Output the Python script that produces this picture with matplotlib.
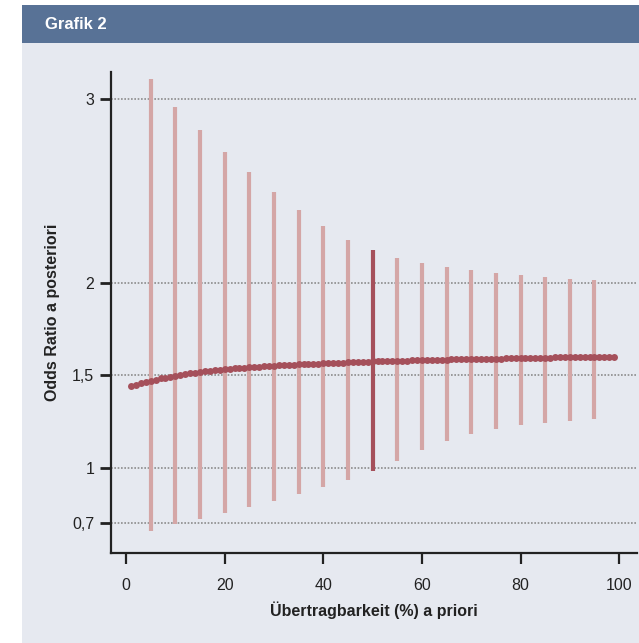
"""Grafik 2: Odds Ratio a posteriori vs. Uebertragbarkeit a priori."""
import matplotlib
matplotlib.use("Agg")
import matplotlib.pyplot as plt
from matplotlib.patches import Rectangle

# prior transferability (%) for the interval bars
bar_x = [5, 10, 15, 20, 25, 30, 35, 40, 45, 50,
         55, 60, 65, 70, 75, 80, 85, 90, 95]
bar_hi = [3.104, 2.956, 2.828, 2.712, 2.600, 2.495, 2.397, 2.309, 2.233, 2.177,
          2.137, 2.108, 2.085, 2.069, 2.054, 2.043, 2.033, 2.022, 2.016]
bar_lo = [0.657, 0.692, 0.723, 0.755, 0.788, 0.820, 0.856, 0.894, 0.934, 0.983,
          1.037, 1.093, 1.145, 1.183, 1.209, 1.229, 1.243, 1.254, 1.265]
highlight = 50

# posterior odds ratio, one point per percent
curve_x = list(range(1, 100))
curve_y = [1.442, 1.450, 1.458, 1.465, 1.471, 1.477, 1.483, 1.488, 1.493, 1.498,
           1.502, 1.506, 1.510, 1.514, 1.518, 1.521, 1.524, 1.527, 1.530, 1.533,
           1.535, 1.537, 1.539, 1.541, 1.543, 1.545, 1.547, 1.549, 1.551, 1.553,
           1.554, 1.556, 1.557, 1.558, 1.560, 1.561, 1.562, 1.563, 1.564, 1.565,
           1.566, 1.567, 1.568, 1.569, 1.570, 1.571, 1.572, 1.573, 1.574, 1.575,
           1.576, 1.576, 1.577, 1.578, 1.579, 1.579, 1.580, 1.581, 1.581, 1.582,
           1.583, 1.583, 1.584, 1.585, 1.585, 1.586, 1.587, 1.587, 1.588, 1.588,
           1.589, 1.589, 1.590, 1.590, 1.591, 1.591, 1.592, 1.592, 1.593, 1.593,
           1.594, 1.594, 1.595, 1.595, 1.596, 1.596, 1.597, 1.597, 1.597, 1.598,
           1.598, 1.599, 1.599, 1.599, 1.600, 1.600, 1.600, 1.601, 1.601]

y_ticks = [0.7, 1, 1.5, 2, 3]
y_labels = ["0,7", "1", "1,5", "2", "3"]
x_ticks = [0, 20, 40, 60, 80, 100]

plt.rcParams["font.family"] = ["Liberation Sans", "DejaVu Sans"]

fig = plt.figure(figsize=(6.39, 6.43), dpi=100)
fig.patch.set_facecolor("white")

# light panel and header bar
fig.patches.append(Rectangle((0.034, 0.0), 0.966, 0.935, transform=fig.transFigure,
                             facecolor="#e6e9f0", edgecolor="none", zorder=-2))
fig.patches.append(Rectangle((0.034, 0.933), 0.966, 0.06, transform=fig.transFigure,
                             facecolor="#587296", edgecolor="none", zorder=-2))
fig.text(0.07, 0.962, "Grafik 2", color="white", fontsize=12,
         fontweight="bold", va="center", ha="left")

ax = fig.add_axes([0.1737, 0.140, 0.823, 0.748])
ax.set_facecolor("none")

for yt in y_ticks:
    ax.axhline(yt, color="#8c8c8c", linestyle=(0, (1, 1)), linewidth=1.2, zorder=1)

for x, lo, hi in zip(bar_x, bar_lo, bar_hi):
    col = "#a5505b" if x == highlight else "#d4a6a6"
    ax.vlines(x, lo, hi, color=col, linewidth=3, zorder=2)

ax.plot(curve_x, curve_y, "o", color="#a5505b", markersize=5,
        markeredgewidth=0, zorder=3)

ax.set_xlim(-3.05, 103.6)
ax.set_ylim(0.537, 3.144)
ax.set_yticks(y_ticks)
ax.set_yticklabels(y_labels)
ax.set_xticks(x_ticks)

for s in ["top", "right"]:
    ax.spines[s].set_visible(False)
for s in ["left", "bottom"]:
    ax.spines[s].set_linewidth(1.6)
    ax.spines[s].set_color("#222222")

ax.tick_params(axis="y", length=8, width=2, pad=4, labelsize=11.5,
               colors="#222222")
ax.tick_params(axis="x", length=8, width=1.6, pad=10, labelsize=11.5,
               colors="#222222")

ax.set_xlabel("Übertragbarkeit (%) a priori", fontsize=11.5, fontweight="bold",
              color="#222222", labelpad=6)
ax.set_ylabel("Odds Ratio a posteriori", fontsize=11.5, fontweight="bold",
              color="#222222", labelpad=9)

fig.savefig("out.png", dpi=100)
